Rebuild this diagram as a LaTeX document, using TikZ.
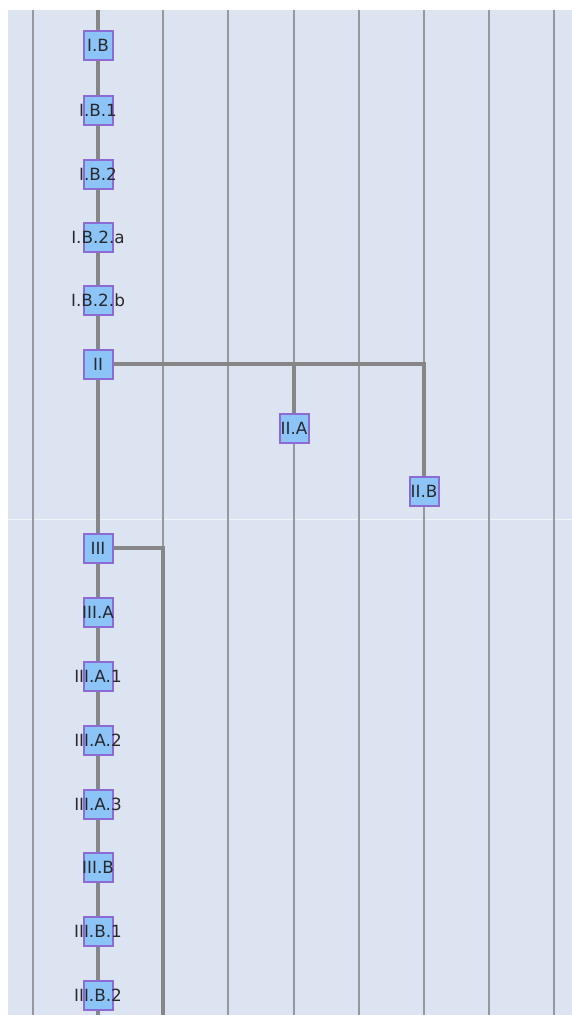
\documentclass[tikz,border=0pt]{standalone}
\usepackage{fontspec}
\newfontfamily\labelfont{DejaVu Sans}
\definecolor{bandbg}{RGB}{221,228,241}
\definecolor{boxfill}{RGB}{140,196,247}
\definecolor{boxedge}{RGB}{140,108,212}
\definecolor{linkgray}{RGB}{134,134,134}
\definecolor{gridgray}{RGB}{150,152,158}
\definecolor{textgray}{RGB}{40,40,45}

\begin{document}
\begin{tikzpicture}[x=1pt,y=-1pt,
  topic/.style={rectangle,draw=boxedge,fill=boxfill,line width=2pt,
    minimum size=29pt,inner sep=0pt,
    label={[text=textgray,font=\labelfont\fontsize{16.8}{19}\selectfont,inner sep=0pt]center:#1}},
  link/.style={draw=linkgray,line width=3.2pt},
  gridline/.style={draw=gridgray,line width=1.2pt}]
\useasboundingbox (0,0) rectangle (572,1015);
\fill[white] (0,0) rectangle (572,1015);
\fill[bandbg] (8,10) rectangle (572,1015);
\draw[white,line width=1pt,opacity=0.6] (8,519.5) -- (572,519.5);

% columns
\foreach \cx in {33,98,163,228,294,359,424,489,554}
  \draw[gridline] (\cx,10) -- (\cx,1015);

\coordinate (top) at (98,10);
\coordinate (bottom) at (98,1015);
\coordinate (bottomIII) at (163,1015);

\node (IB) at (98,45) [topic={I.B}] {};
\node (IB1) at (98,110) [topic={I.B.1}] {};
\node (IB2) at (98,174) [topic={I.B.2}] {};
\node (IB2a) at (98,237) [topic={I.B.2.a}] {};
\node (IB2b) at (98,300) [topic={I.B.2.b}] {};
\node (II) at (98,364) [topic={II}] {};
\node (IIA) at (294,428) [topic={II.A}] {};
\node (IIB) at (424,491) [topic={II.B}] {};

\node (III) at (98,548) [topic={III}] {};
\node (IIIA) at (98,612) [topic={III.A}] {};
\node (IIIA1) at (98,676) [topic={III.A.1}] {};
\node (IIIA2) at (98,740) [topic={III.A.2}] {};
\node (IIIA3) at (98,804) [topic={III.A.3}] {};
\node (IIIB) at (98,867) [topic={III.B}] {};
\node (IIIB1) at (98,931) [topic={III.B.1}] {};
\node (IIIB2) at (98,995) [topic={III.B.2}] {};

\draw[link] (top) -- (IB);
\draw[link] (IB) -- (IB1);
\draw[link] (IB1) -- (IB2);
\draw[link] (IB2) -- (IB2a);
\draw[link] (IB2a) -- (IB2b);
\draw[link] (IB2b) -- (II);
\draw[link] (II) -| (IIA);
\draw[link] (II) -| (IIB);
\draw[link] (II) -- (III);

\draw[link] (III) -- (IIIA);
\draw[link] (IIIA) -- (IIIA1);
\draw[link] (IIIA1) -- (IIIA2);
\draw[link] (IIIA2) -- (IIIA3);
\draw[link] (IIIA3) -- (IIIB);
\draw[link] (IIIB) -- (IIIB1);
\draw[link] (IIIB1) -- (IIIB2);
\draw[link] (IIIB2) -- (bottom);
\draw[link] (III) -| (bottomIII);

\end{tikzpicture}
\end{document}
